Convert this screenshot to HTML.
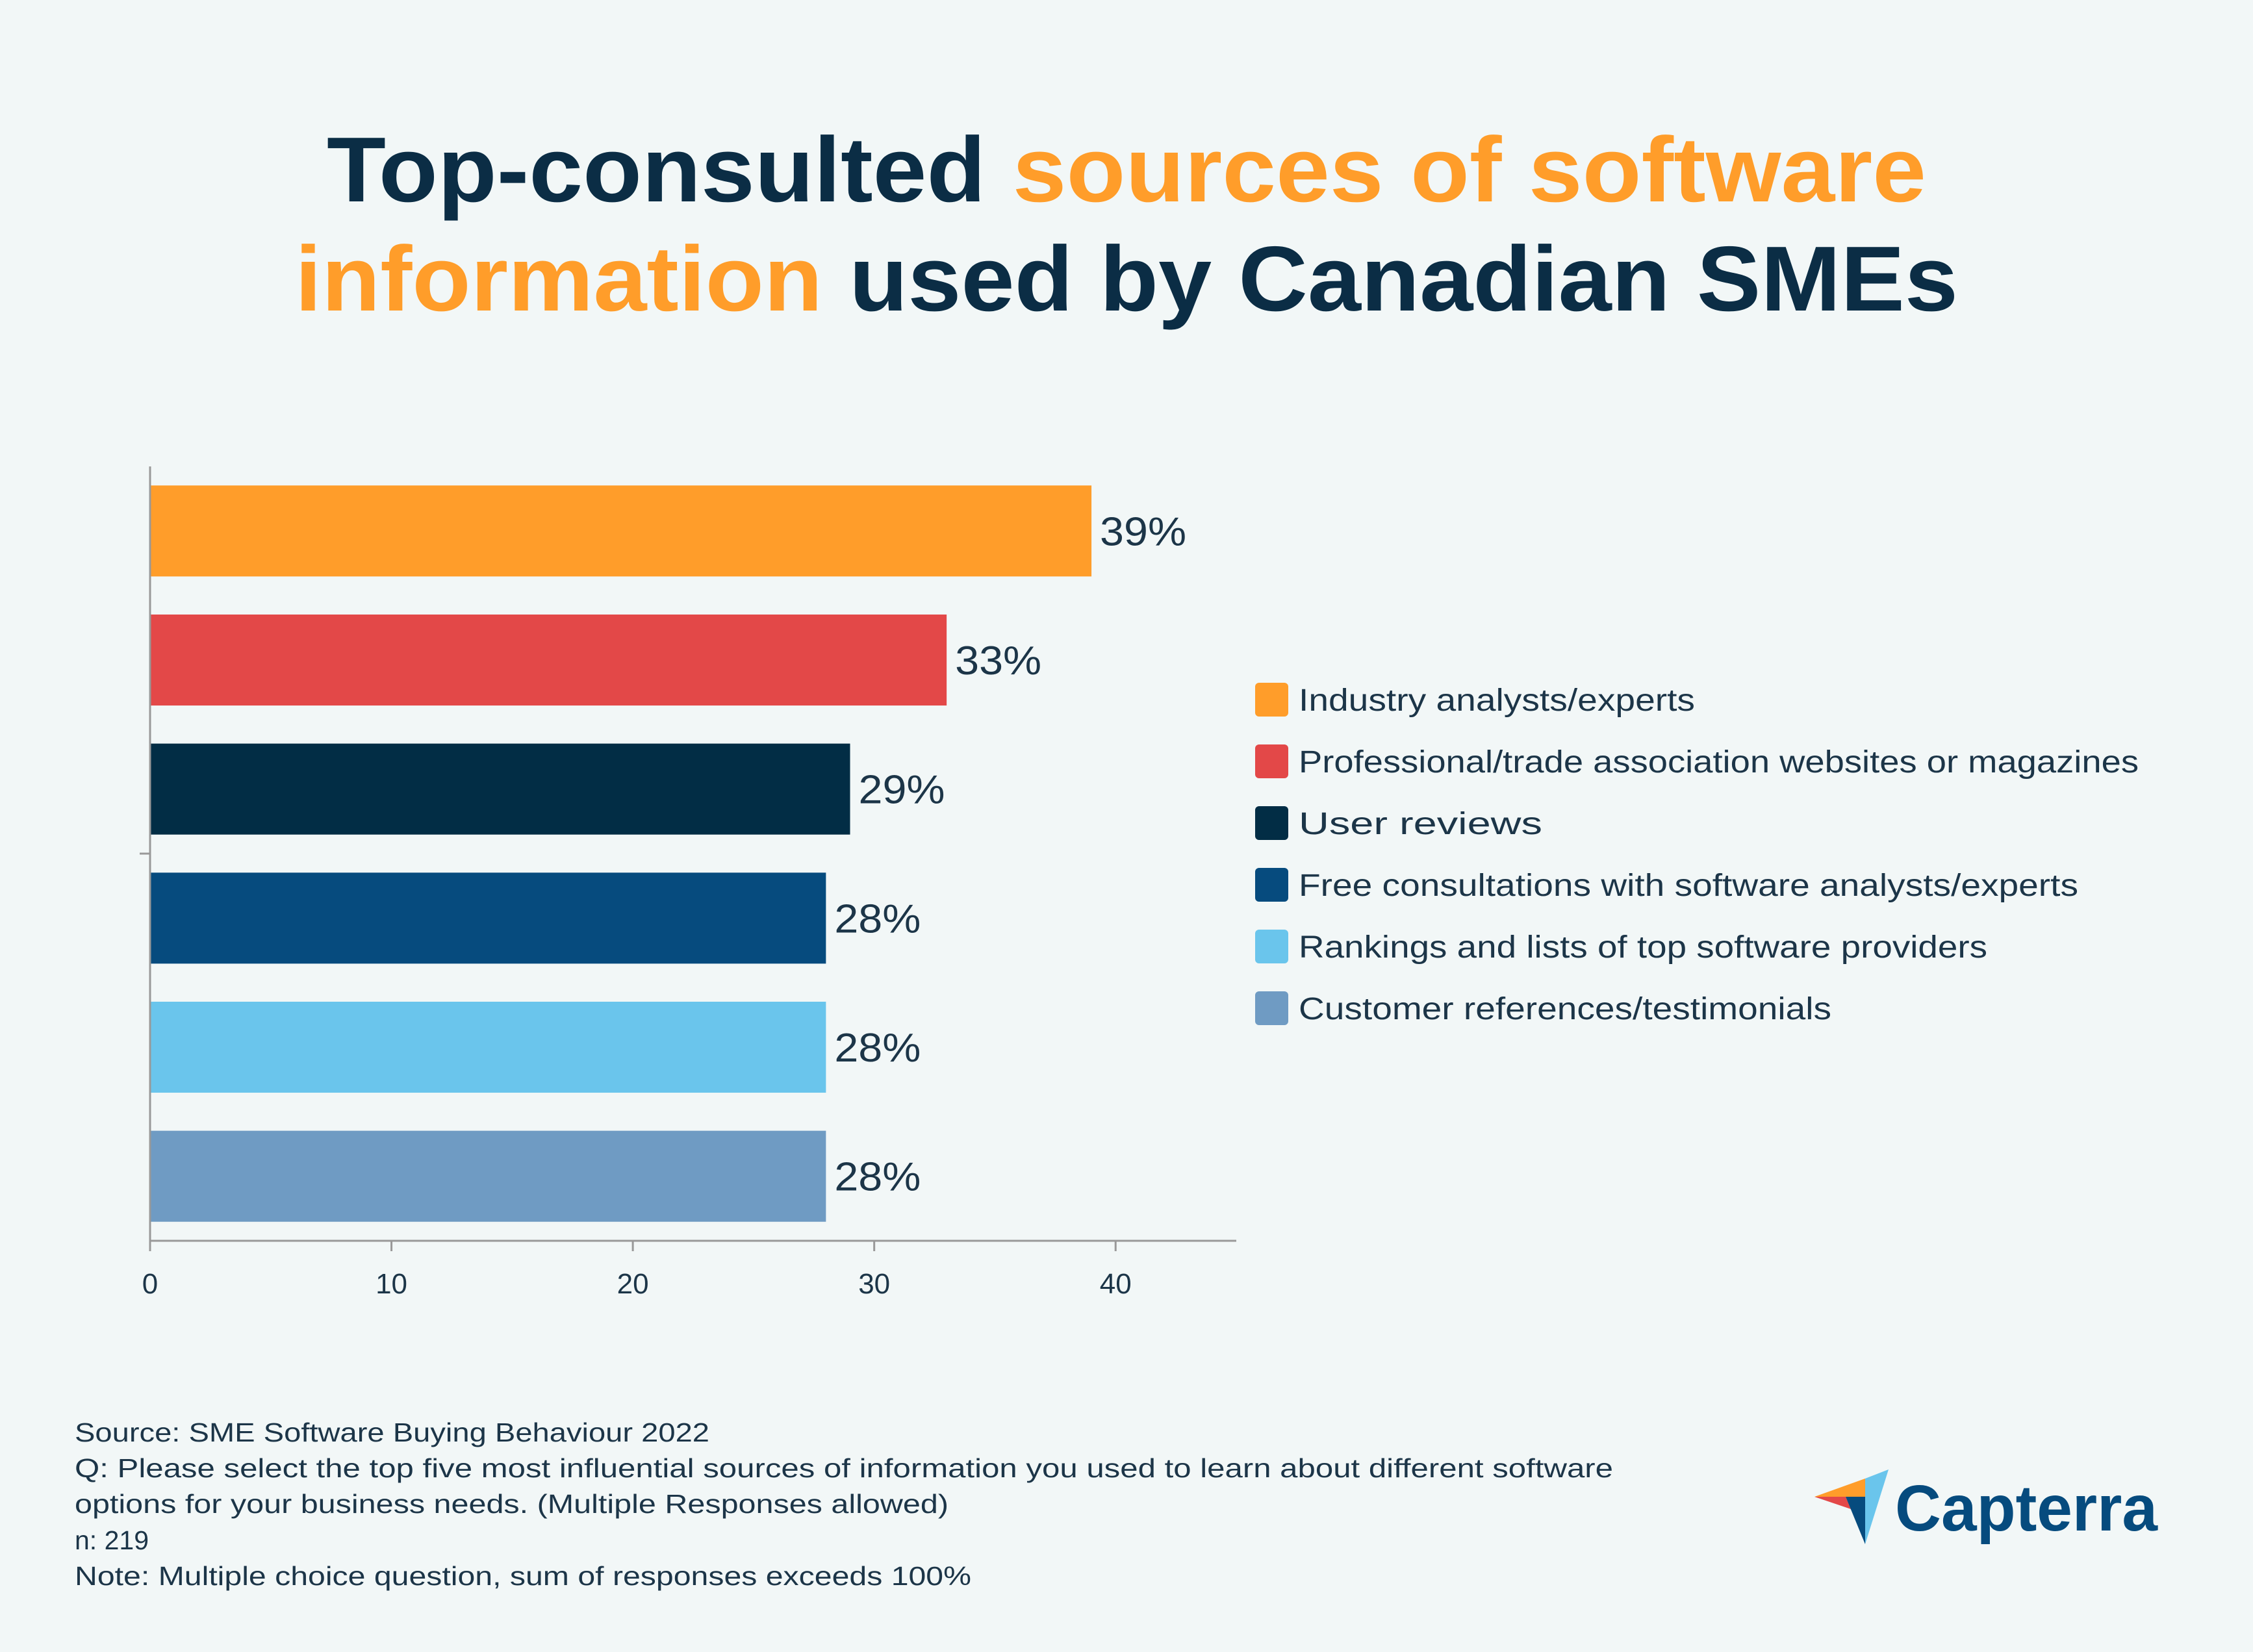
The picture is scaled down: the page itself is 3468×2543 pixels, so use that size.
<!DOCTYPE html>
<html><head><meta charset="utf-8"><style>
html,body{margin:0;padding:0;background:#f2f7f7;}
svg{display:block;font-family:"Liberation Sans",sans-serif;}
</style></head><body>
<svg id="chart" width="3468" height="2543" viewBox="0 0 3468 2543">
<rect width="3468" height="2543" fill="#f2f7f7"/>
<text x="1734" y="310" text-anchor="middle" font-size="142" font-weight="bold" fill="#0b2d45" textLength="2462" lengthAdjust="spacingAndGlyphs">Top-consulted <tspan fill="#ff9d2a">sources of software</tspan></text>
<text x="1734" y="478" text-anchor="middle" font-size="142" font-weight="bold" fill="#ff9d2a" textLength="2560" lengthAdjust="spacingAndGlyphs">information <tspan fill="#0b2d45">used by Canadian SMEs</tspan></text>
<g id="plot"></g>
<g id="legend"></g>
<g font-size="41" fill="#1c3548">
<text x="115" y="2219" textLength="977" lengthAdjust="spacingAndGlyphs">Source: SME Software Buying Behaviour 2022</text>
<text x="115" y="2274" textLength="2368" lengthAdjust="spacingAndGlyphs">Q: Please select the top five most influential sources of information you used to learn about different software</text>
<text x="115" y="2329" textLength="1345" lengthAdjust="spacingAndGlyphs">options for your business needs. (Multiple Responses allowed)</text>
<text x="115" y="2385">n: 219</text>
<text x="115" y="2440" textLength="1380" lengthAdjust="spacingAndGlyphs">Note: Multiple choice question, sum of responses exceeds 100%</text>
</g>
<g>
<polygon points="2793,2304 2871,2276 2871,2304" fill="#ff9d2a"/>
<polygon points="2871,2276 2907,2262 2871,2377" fill="#6ac5ec"/>
<polygon points="2793,2304 2841,2304 2849,2323" fill="#e34848"/>
<polygon points="2841,2304 2871,2304 2871,2377" fill="#064b7e"/>
<text x="2917" y="2356" font-size="100" font-weight="bold" fill="#064b7e" textLength="404" lengthAdjust="spacingAndGlyphs">Capterra</text>
</g>
</svg>
<script>
const categories = ["Industry analysts/experts","Professional/trade association websites or magazines","User reviews","Free consultations with software analysts/experts","Rankings and lists of top software providers","Customer references/testimonials"];
const values = [39,33,29,28,28,28];
const valueLabels = ["39%","33%","29%","28%","28%","28%"];
const colors = ["#ff9d2a","#e34848","#022d45","#064b7e","#6ac5ec","#6f9bc3"];
const xTicks = [0,10,20,30,40];
const xTickLabels = ["0","10","20","30","40"];
const legendWidths = [610,1293,375,1200,1060,820];

const NS="http://www.w3.org/2000/svg";
const X0=231,X1=1903,XMAX=45,YT=718,YB=1910;
const band=(YB-YT)/categories.length;
function xs(v){return X0+(X1-X0)*v/XMAX;}
function yb(i){return YT+band*i;}
function mk(tag,attrs,parent){const e=document.createElementNS(NS,tag);for(const k in attrs)e.setAttribute(k,attrs[k]);parent.appendChild(e);return e;}
const plot=document.getElementById('plot');
const legend=document.getElementById('legend');

categories.forEach((c,i)=>{
  const bh=band*0.705, y=yb(i)+(band-bh)/2;
  const r=mk('rect',{x:X0,y:y,width:xs(values[i])-X0,height:bh,fill:colors[i]},plot);
  
  
  const t=mk('text',{x:xs(values[i])+13,y:y+bh/2+22,'font-size':62,fill:'#1c3548',textLength:133,lengthAdjust:'spacingAndGlyphs'},plot);
  t.textContent=valueLabels[i];
  
  
  const ly=1077+95*i;
  const s=mk('rect',{x:1932,y:ly-26,width:51,height:52,rx:6,fill:colors[i]},legend);
  
  
  const lt=mk('text',{x:1999,y:ly+17,'font-size':48,fill:'#1c3548',textLength:legendWidths[i],lengthAdjust:'spacingAndGlyphs'},legend);
  lt.textContent=c;
  
  
});

const ya=mk('line',{x1:X0,y1:YT,x2:X0,y2:YB,stroke:'#999',"stroke-width":3},plot);


const ytick=mk('line',{x1:215,y1:(YT+YB)/2,x2:X0,y2:(YT+YB)/2,stroke:'#999',"stroke-width":3},plot);


const xa=mk('line',{x1:X0,y1:YB,x2:X1,y2:YB,stroke:'#999',"stroke-width":3},plot);


xTicks.forEach((v,i)=>{
  const tk=mk('line',{x1:xs(v),y1:YB,x2:xs(v),y2:YB+16,stroke:'#999',"stroke-width":3},plot);
  
  
  const tl=mk('text',{x:xs(v),y:1991,'text-anchor':'middle','font-size':44,fill:'#1c3548'},plot);
  tl.textContent=xTickLabels[i];
  
  
});
</script>
</body></html>
